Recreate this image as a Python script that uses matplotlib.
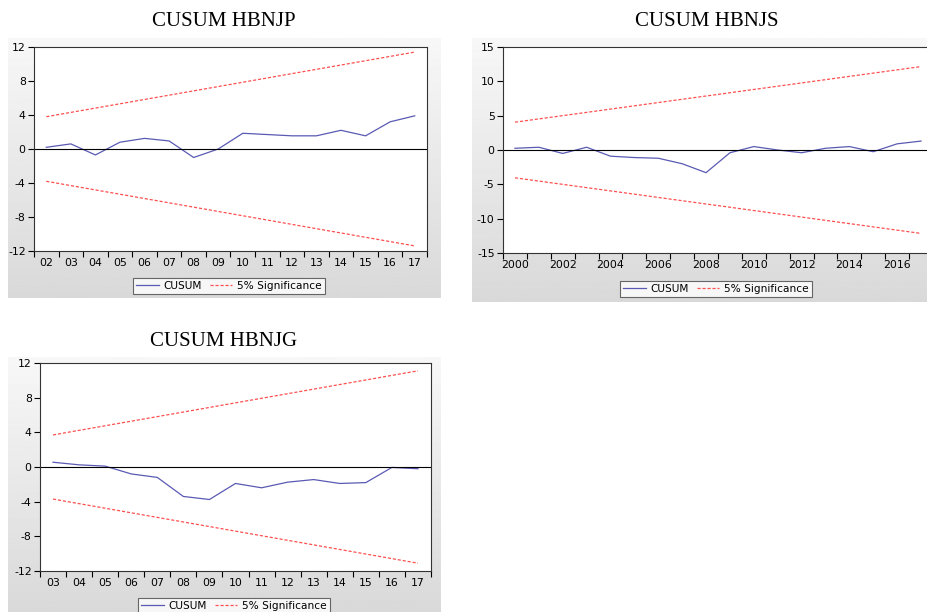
import numpy as np
import matplotlib
matplotlib.use("Agg")
import matplotlib.pyplot as plt

# ---- data ----
hbnjp_labels = ["02", "03", "04", "05", "06", "07", "08", "09",
                "10", "11", "12", "13", "14", "15", "16", "17"]
hbnjp_cusum = [0.2, 0.6, -0.7, 0.8, 1.25, 0.95, -1.0, 0.0,
               1.85, 1.7, 1.55, 1.55, 2.2, 1.55, 3.2, 3.9]
hbnjp_bound = [3.8, 11.4]

hbnjs_years = list(range(2000, 2018))
hbnjs_cusum = [0.25, 0.4, -0.5, 0.4, -0.9, -1.1, -1.2, -2.0, -3.3,
               -0.4, 0.5, 0.0, -0.4, 0.25, 0.5, -0.25, 0.9, 1.3]
hbnjs_bound = [4.05, 12.15]
hbnjs_labels = ["2000", "2002", "2004", "2006", "2008", "2010", "2012", "2014", "2016"]

hbnjg_labels = ["03", "04", "05", "06", "07", "08", "09", "10",
                "11", "12", "13", "14", "15", "16", "17"]
hbnjg_cusum = [0.55, 0.25, 0.1, -0.8, -1.2, -3.4, -3.75, -1.9,
               -2.4, -1.75, -1.45, -1.9, -1.8, -0.05, -0.2]
hbnjg_bound = [3.7, 11.1]

W, H = 928, 612
BLUE = "#5a5ab4"
RED = "#ff5050"
TICK_FS = 7.8


def fig_rect(x0, y0, x1, y1):
    # pixel box (top-left origin) -> figure fraction rect
    return [x0 / W, 1 - y1 / H, (x1 - x0) / W, (y1 - y0) / H]


def panel_background(fig, box):
    bg = fig.add_axes(fig_rect(*box), zorder=0)
    grad = np.linspace(0.97, 0.85, 256).reshape(-1, 1)
    bg.imshow(grad, aspect="auto", cmap="gray", vmin=0, vmax=1,
              extent=[0, 1, 0, 1])
    bg.set_axis_off()


def cusum_axes(fig, box, x, cusum, bound, ylim, yticks,
               label_pos, labels, legend_xy, title, title_xy):
    ax = fig.add_axes(fig_rect(*box), zorder=1)
    ax.set_facecolor("white")
    ln1, = ax.plot(x, cusum, color=BLUE, lw=0.9, label="CUSUM")
    xe = [x[0], x[-1]]
    ln2, = ax.plot(xe, bound, color=RED, lw=0.9, ls=(0, (2.5, 1.5)),
                   label="5% Significance")
    ax.plot(xe, [-b for b in bound], color=RED, lw=0.9, ls=(0, (2.5, 1.5)))
    ax.axhline(0, color="black", lw=0.8)

    ax.set_xlim(x[0] - 0.5, x[-1] + 0.5)
    ax.set_ylim(*ylim)
    ax.set_yticks(yticks)
    ax.set_yticklabels([str(t) for t in yticks])

    # ticks at cell boundaries, labels centred in the cells
    ax.set_xticks(np.arange(x[0] - 0.5, x[-1] + 1.0, 1.0))
    ax.set_xticklabels([])
    ax.set_xticks(label_pos, minor=True)
    ax.set_xticklabels(labels, minor=True)
    ax.tick_params(axis="x", which="minor", length=0, pad=5, labelsize=TICK_FS)
    ax.tick_params(axis="x", which="major", length=4, width=0.8)
    ax.tick_params(axis="y", length=4, width=0.8, pad=2, labelsize=TICK_FS)
    for s in ax.spines.values():
        s.set_linewidth(0.8)
        s.set_color("#333333")

    leg = fig.legend(handles=[ln1, ln2], loc="center", ncol=2,
                     bbox_to_anchor=(legend_xy[0] / W, 1 - legend_xy[1] / H),
                     fontsize=7.6, frameon=True, fancybox=False,
                     handlelength=2.1, columnspacing=0.7, handletextpad=0.5,
                     borderpad=0.3, borderaxespad=0)
    leg.get_frame().set_edgecolor("#444444")
    leg.get_frame().set_linewidth(0.8)
    leg.get_frame().set_facecolor("white")

    fig.text(title_xy[0] / W, 1 - title_xy[1] / H, title,
             family="Liberation Serif", fontsize=15, ha="center", va="center")
    return ax


fig = plt.figure(figsize=(W / 100, H / 100), dpi=100)
fig.patch.set_facecolor("white")

panel_background(fig, (8, 38, 441, 298))
panel_background(fig, (472, 38, 928, 302))
panel_background(fig, (8, 357, 441, 612))

x1 = list(range(len(hbnjp_cusum)))
cusum_axes(fig, (34, 47, 427, 251), x1, hbnjp_cusum, hbnjp_bound,
           (-12, 12), [-12, -8, -4, 0, 4, 8, 12],
           x1, hbnjp_labels, (229, 286), "CUSUM HBNJP", (224, 22))

cusum_axes(fig, (503, 47, 933, 253), hbnjs_years, hbnjs_cusum, hbnjs_bound,
           (-15, 15), [-15, -10, -5, 0, 5, 10, 15],
           [int(s) for s in hbnjs_labels], hbnjs_labels, (716, 289),
           "CUSUM HBNJS", (707, 22))

x3 = list(range(len(hbnjg_cusum)))
cusum_axes(fig, (40, 363, 431, 571), x3, hbnjg_cusum, hbnjg_bound,
           (-12, 12), [-12, -8, -4, 0, 4, 8, 12],
           x3, hbnjg_labels, (234, 606), "CUSUM HBNJG", (224, 341))

fig.savefig("out.png", dpi=100)
